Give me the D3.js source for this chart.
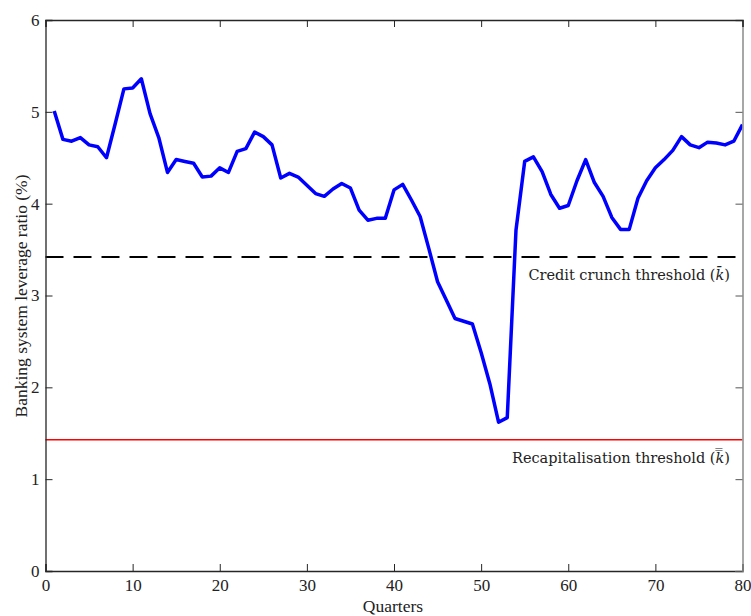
<!DOCTYPE html>
<html>
<head>
<meta charset="utf-8">
<script src="https://cdn.jsdelivr.net/npm/d3@7"></script>
<style>
  html, body { margin: 0; padding: 0; background: #fff; }
  svg { display: block; }
</style>
</head>
<body>
<svg id="chart" width="751" height="616"></svg>
<script>
// Banking system leverage ratio, one value per quarter (1..80)
const quarters = d3.range(1, 81);
const leverage = [
  5.01, 4.70, 4.68, 4.72, 4.64, 4.62, 4.50, 4.87, 5.25, 5.26,
  5.36, 4.98, 4.72, 4.34, 4.48, 4.46, 4.44, 4.29, 4.30, 4.39,
  4.34, 4.57, 4.60, 4.78, 4.73, 4.64, 4.28, 4.33, 4.29, 4.20,
  4.11, 4.08, 4.16, 4.22, 4.17, 3.93, 3.82, 3.84, 3.84, 4.15,
  4.21, 4.04, 3.86, 3.51, 3.15, 2.95, 2.75, 2.72, 2.69, 2.38,
  2.04, 1.62, 1.67, 3.71, 4.46, 4.51, 4.35, 4.10, 3.95, 3.98,
  4.25, 4.48, 4.23, 4.08, 3.85, 3.72, 3.72, 4.06, 4.25, 4.39,
  4.48, 4.58, 4.73, 4.64, 4.61, 4.67, 4.66, 4.64, 4.68, 4.86
];
const creditCrunch = 3.42;
const recapitalisation = 1.43;
const xTicks = [0, 10, 20, 30, 40, 50, 60, 70, 80];
const yTicks = [0, 1, 2, 3, 4, 5, 6];

const SERIF = "Liberation Serif, Times New Roman, Times, serif";
const svg = d3.select("#chart");
const plotLeft = 45.5, plotRight = 742.5, plotTop = 20, plotBottom = 571;

const x = d3.scaleLinear().domain([0, 80]).range([plotLeft, plotRight]);
const y = d3.scaleLinear().domain([0, 6]).range([plotBottom, plotTop]);

svg.append("clipPath").attr("id", "plot-clip")
  .append("rect").attr("x", plotLeft).attr("y", plotTop)
  .attr("width", plotRight - plotLeft).attr("height", plotBottom - plotTop);

// Threshold lines
svg.append("line")
  .attr("x1", x(0)).attr("x2", x(80))
  .attr("y1", y(creditCrunch)).attr("y2", y(creditCrunch))
  .attr("stroke", "#000").attr("stroke-width", 2)
  .attr("stroke-dasharray", "18,10");

svg.append("line")
  .attr("x1", x(0)).attr("x2", x(80))
  .attr("y1", y(recapitalisation)).attr("y2", y(recapitalisation))
  .attr("stroke", "#ff0000").attr("stroke-width", 1.5);

// Leverage series
const line = d3.line().x((d, i) => x(quarters[i])).y(d => y(d));
svg.append("path")
  .datum(leverage)
  .attr("clip-path", "url(#plot-clip)")
  .attr("fill", "none")
  .attr("stroke", "#0000ff")
  .attr("stroke-width", 3.5)
  .attr("stroke-linejoin", "round")
  .attr("d", line);

// Axes: ticks point inward on all four sides
const xAxis = svg.append("g").attr("transform", `translate(0,${plotBottom})`)
  .call(d3.axisBottom(x).tickValues(xTicks).tickSize(-7).tickPadding(8).tickFormat(d3.format("d")));
const yAxis = svg.append("g").attr("transform", `translate(${plotLeft},0)`)
  .call(d3.axisLeft(y).tickValues(yTicks).tickSize(-7).tickPadding(6).tickFormat(d3.format("d")));
const yAxisR = svg.append("g").attr("transform", `translate(${plotRight},0)`)
  .call(d3.axisRight(y).tickValues(yTicks).tickSize(-7).tickFormat(""));
const xAxisT = svg.append("g").attr("transform", `translate(0,${plotTop})`)
  .call(d3.axisTop(x).tickValues(xTicks).tickSize(-7).tickFormat(""));

[xAxis, yAxis].forEach(g => {
  g.attr("font-family", SERIF).attr("font-size", 17);
  g.select(".domain").attr("stroke", "#262626").attr("stroke-width", 1.3);
  g.selectAll(".tick line").attr("stroke", "#262626").attr("stroke-width", 1);
  g.selectAll(".tick text").attr("fill", "#222")
    .attr("font-family", SERIF).attr("font-size", 17);
});
xAxisT.select(".domain").attr("stroke", "#262626").attr("stroke-width", 1.3);
xAxisT.selectAll(".tick line").attr("stroke", "#262626");
yAxisR.select(".domain").attr("stroke", "#8a8a8a").attr("stroke-width", 1.5);
yAxisR.selectAll(".tick line").attr("stroke", "#555");

// Axis titles
svg.append("text")
  .attr("x", 393).attr("y", 612)
  .attr("text-anchor", "middle")
  .attr("font-family", SERIF).attr("font-size", 17.5).attr("fill", "#222")
  .text("Quarters");

svg.append("text")
  .attr("transform", `translate(27,296) rotate(-90)`)
  .attr("text-anchor", "middle")
  .attr("font-family", SERIF).attr("font-size", 17.5).attr("fill", "#222")
  .text("Banking system leverage ratio (%)");

// Threshold annotations
function thresholdLabel(label, value, bars, baselineOffset) {
  const t = svg.append("text")
    .attr("x", 730).attr("y", y(value) + baselineOffset)
    .attr("text-anchor", "end")
    .attr("font-family", "DejaVu Serif, serif")
    .attr("font-size", 14.5).attr("fill", "#222");
  t.append("tspan").text(label + " (");
  t.append("tspan").attr("font-style", "italic").text("k" + bars);
  t.append("tspan").text(")");
}
thresholdLabel("Credit crunch threshold", creditCrunch, "\u0304", 23);
thresholdLabel("Recapitalisation threshold", recapitalisation, "\u033F", 23);
</script>
</body>
</html>
